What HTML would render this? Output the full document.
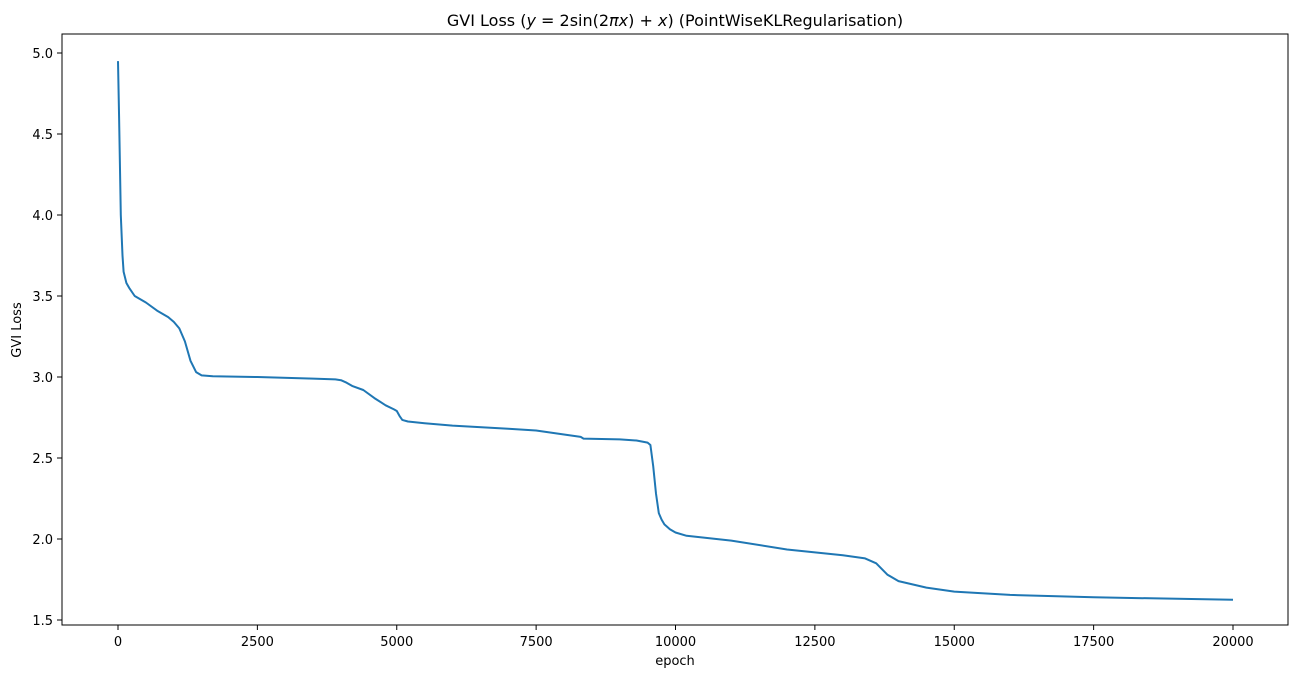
<!DOCTYPE html>
<html><head><meta charset="utf-8"><style>
body{margin:0;background:#fff;}
svg{display:block;font-family:"DejaVu Sans","Liberation Sans",sans-serif;}
</style></head><body>
<svg id="chart" width="1298" height="678" viewBox="0 0 1298 678">
<rect width="1298" height="678" fill="#fff"/>
<text x="675" y="26" font-size="16" text-anchor="middle" fill="#000">GVI Loss (<tspan font-style="italic">y</tspan> = 2sin(2<tspan font-style="italic">πx</tspan>) + <tspan font-style="italic">x</tspan>) (PointWiseKLRegularisation)</text>
<g id="xticks"></g>
<g id="yticks"></g>
<path id="line" fill="none" stroke="#1f77b4" stroke-width="2" stroke-linejoin="round"/>
<rect x="62" y="34" width="1226" height="591" fill="none" stroke="#000" stroke-width="1"/>
<text x="675" y="665" font-size="13" text-anchor="middle">epoch</text>
<text transform="translate(21,330) rotate(-90)" font-size="13" text-anchor="middle">GVI Loss</text>
</svg>
<script>
const epochs = [0,20,50,80,100,150,200,300,500,700,900,1000,1100,1200,1300,1400,1500,1700,2500,3500,3900,4000,4100,4200,4400,4600,4800,4950,5000,5050,5100,5200,5500,6000,7000,7500,8000,8300,8350,9000,9300,9500,9550,9600,9650,9700,9750,9800,9900,10000,10200,11000,12000,13000,13400,13600,13800,14000,14500,15000,16000,17500,20000];
const losses = [4.95,4.6,4.0,3.75,3.65,3.58,3.55,3.50,3.46,3.41,3.37,3.34,3.30,3.22,3.10,3.03,3.01,3.005,3.0,2.99,2.985,2.98,2.965,2.945,2.92,2.87,2.825,2.80,2.79,2.76,2.735,2.725,2.715,2.70,2.68,2.67,2.645,2.63,2.62,2.615,2.608,2.595,2.58,2.45,2.28,2.16,2.12,2.09,2.06,2.04,2.02,1.99,1.935,1.90,1.88,1.85,1.78,1.74,1.70,1.675,1.655,1.64,1.625];
const xTicks = [0,2500,5000,7500,10000,12500,15000,17500,20000];
const yTicks = [1.5,2.0,2.5,3.0,3.5,4.0,4.5,5.0];
const NS="http://www.w3.org/2000/svg";
const xs = v => 118 + (v/20000)*(1233-118);
const ys = v => 620 - (v-1.5)/(3.5)*(620-53);
let d="";
epochs.forEach((e,i)=>{d+=(i?"L":"M")+xs(e).toFixed(1)+","+ys(losses[i]).toFixed(1);});
document.getElementById('line').setAttribute('d',d);
const gx=document.getElementById('xticks');
xTicks.forEach(t=>{
  const l=document.createElementNS(NS,'line');
  
  
  l.setAttribute('x1',xs(t));l.setAttribute('x2',xs(t));l.setAttribute('y1',625);l.setAttribute('y2',630);l.setAttribute('stroke','#000');
  gx.appendChild(l);
  const tx=document.createElementNS(NS,'text');
  
  
  tx.setAttribute('x',xs(t));tx.setAttribute('y',646);tx.setAttribute('font-size','13');tx.setAttribute('text-anchor','middle');
  tx.textContent=t;gx.appendChild(tx);
});
const gy=document.getElementById('yticks');
yTicks.forEach(t=>{
  const l=document.createElementNS(NS,'line');
  
  
  l.setAttribute('x1',57);l.setAttribute('x2',62);l.setAttribute('y1',ys(t));l.setAttribute('y2',ys(t));l.setAttribute('stroke','#000');
  gy.appendChild(l);
  const tx=document.createElementNS(NS,'text');
  
  
  tx.setAttribute('x',53);tx.setAttribute('y',ys(t)+5);tx.setAttribute('font-size','13');tx.setAttribute('text-anchor','end');
  tx.textContent=t.toFixed(1);gy.appendChild(tx);
});
</script>
</body></html>
